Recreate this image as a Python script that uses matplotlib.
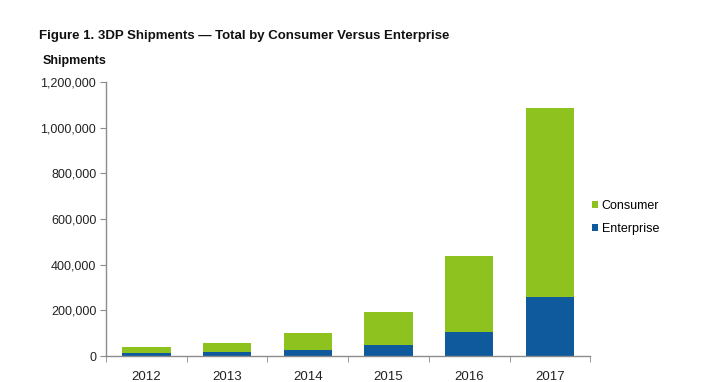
import matplotlib
matplotlib.use('Agg')
import matplotlib.pyplot as plt
import numpy as np
from matplotlib.ticker import FuncFormatter, FixedLocator

plt.rcParams['font.family'] = ['Liberation Sans', 'DejaVu Sans']

years = ['2012', '2013', '2014', '2015', '2016', '2017']
enterprise = [12000, 16000, 26000, 48000, 106000, 257000]
consumer_total = [38000, 57000, 99000, 194000, 437000, 1086000]
consumer = [t - e for t, e in zip(consumer_total, enterprise)]

green = '#8DC21F'
blue = '#0E5A9D'
grey = '#8C8C8C'

fig = plt.figure(figsize=(7.09, 3.82), dpi=100)
ax = fig.add_axes([0.1495, 0.068, 0.683, 0.717])

x = np.arange(len(years))
ax.bar(x, enterprise, width=0.6, color=blue, label='Enterprise')
ax.bar(x, consumer, width=0.6, bottom=enterprise, color=green, label='Consumer')

ax.set_xlim(-0.5, len(years) - 0.5)
ax.set_ylim(0, 1200000)
ax.set_yticks(np.arange(0, 1200001, 200000))
ax.yaxis.set_major_formatter(FuncFormatter(lambda v, p: f"{int(v):,}"))
ax.set_xticks(x)
ax.set_xticklabels(years)
ax.xaxis.set_minor_locator(FixedLocator(np.arange(-0.5, len(years), 1.0)))
ax.tick_params(axis='x', which='major', length=0, pad=11, labelsize=9.5, colors='#222222')
ax.tick_params(axis='x', which='minor', length=4, color=grey, direction='out')
ax.tick_params(axis='y', length=4, color=grey, labelsize=9, labelcolor='#222222', pad=3)

for s in ['top', 'right']:
    ax.spines[s].set_visible(False)
for s in ['left', 'bottom']:
    ax.spines[s].set_color(grey)
    ax.spines[s].set_linewidth(1.0)

handles, labels = ax.get_legend_handles_labels()
leg = ax.legend(handles[::-1], labels[::-1], loc='center left',
                bbox_to_anchor=(0.98, 0.505), frameon=False, fontsize=9,
                handlelength=0.5, handleheight=0.5, handletextpad=0.3,
                labelspacing=0.9)

fig.text(0.055, 0.905, 'Figure 1. 3DP Shipments \u2014 Total by Consumer Versus Enterprise',
         fontsize=9.5, fontweight='bold', color='#111111', va='center')
fig.text(0.06, 0.84, 'Shipments', fontsize=9, fontweight='bold', color='#111111', va='center')

fig.savefig('out.png', dpi=100, facecolor='white')
